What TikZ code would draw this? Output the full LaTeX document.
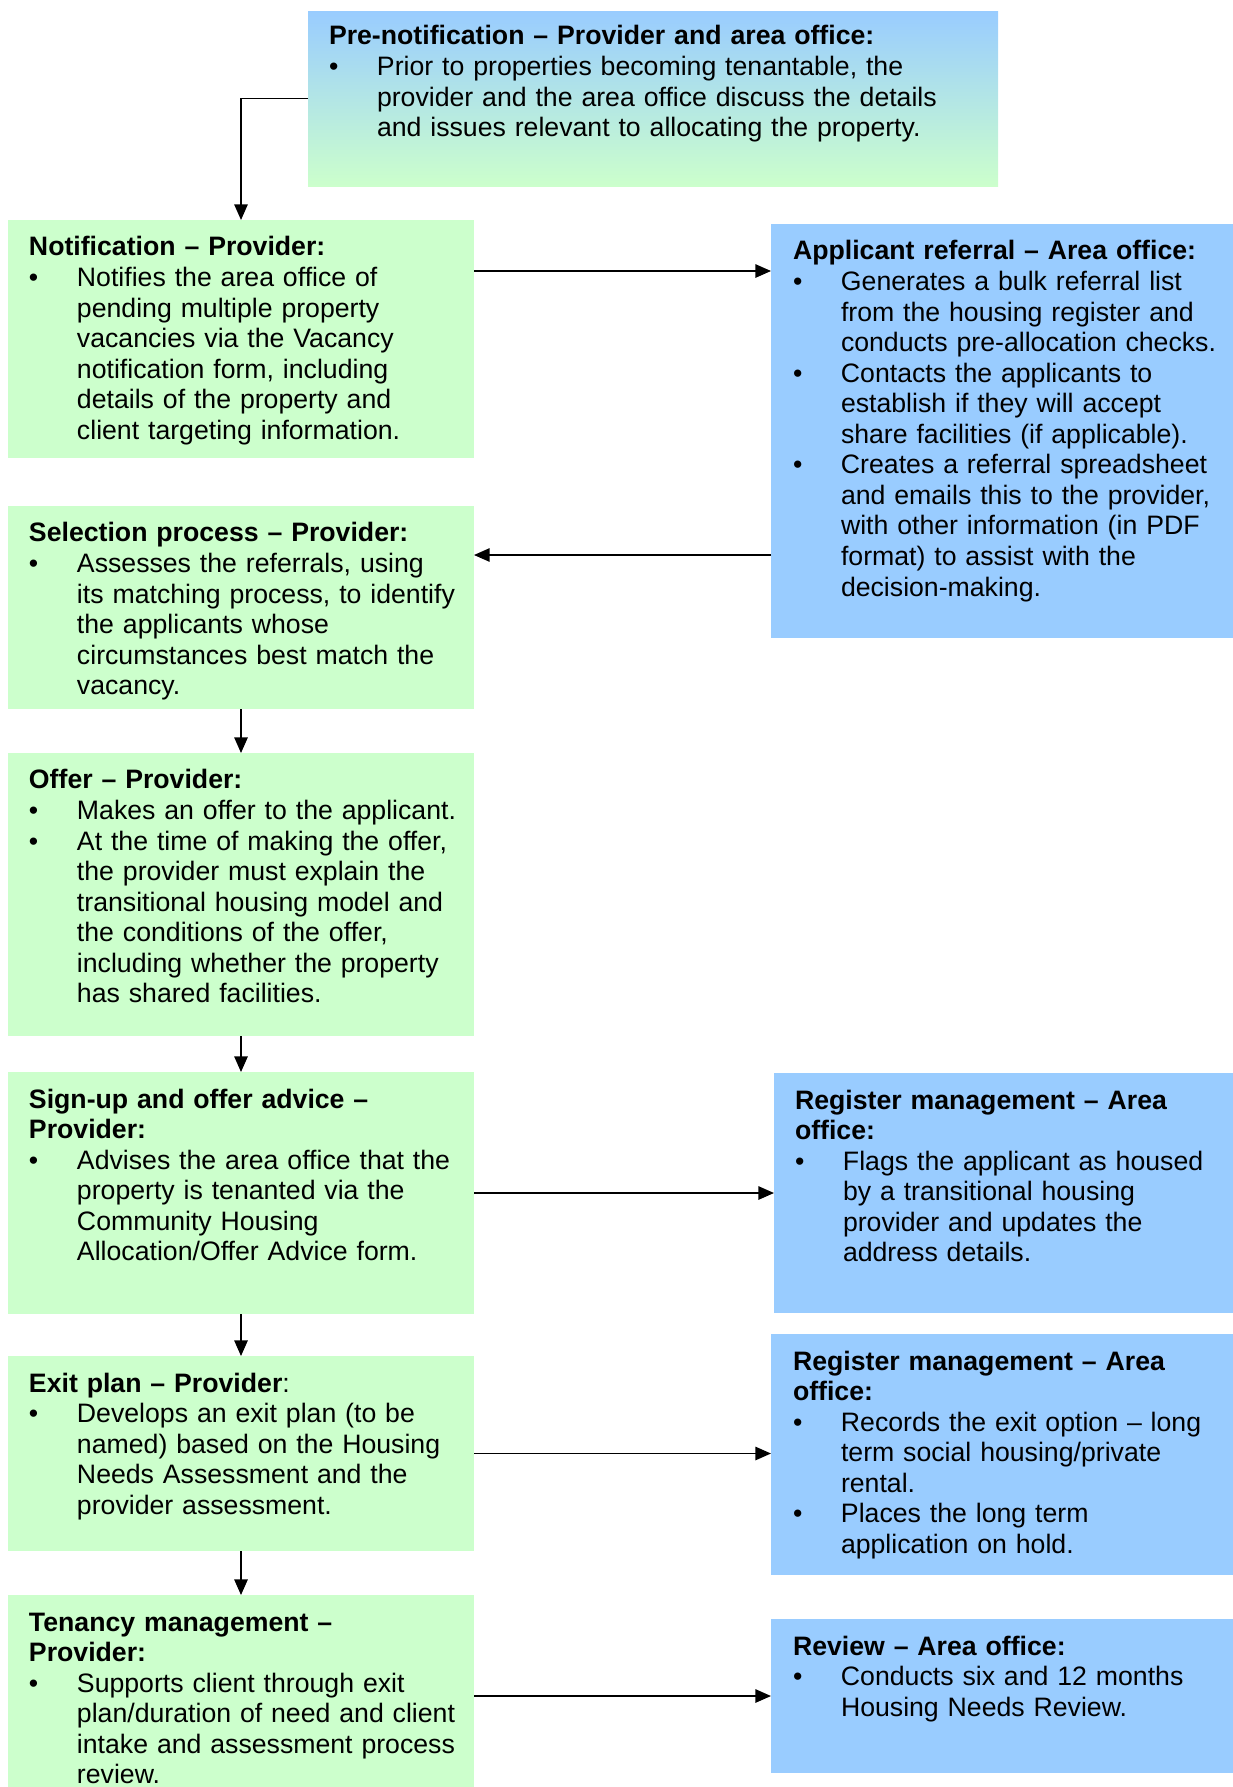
\documentclass[tikz,border=0pt]{standalone}
\usepackage{fontspec}
\setmainfont{Liberation Sans}
\usetikzlibrary{fit,calc,arrows.meta}
\definecolor{gfill}{HTML}{CCFFCC}
\definecolor{bfill}{HTML}{99CCFF}
\setlength{\parskip}{0pt}
\newcommand\bul{\par\leftskip=21.6pt\noindent\llap{\makebox[21.6pt][l]{•}}\ignorespaces}
\newcommand\ttl[1]{\strut\textbf{#1}}
\begin{document}
\begin{tikzpicture}[x=0.45pt,y=-0.45pt,
  box/.style={inner sep=0pt, outer sep=0pt, draw=none},
  gbox/.style={box, fill=gfill},
  bbox/.style={box, fill=bfill},
  txt/.style={anchor=north west, inner sep=0pt, outer sep=0pt, text width=300pt,
    font=\fontsize{12}{13.75}\selectfont},
  arr/.style={draw, line width=0.7pt, -{Triangle[length=7pt,width=6pt]}}]
\useasboundingbox (0,0) rectangle (1233,1787);

% boxes
\node[box, fit={(308,11) (998,186)}, top color=bfill, bottom color=gfill] (pre) {};
\node[gbox, fit={(8,220) (474,458)}] (notif) {};
\node[bbox, fit={(771,224) (1233,638)}] (app) {};
\node[gbox, fit={(8,506) (474,709)}] (sel) {};
\node[gbox, fit={(8,753) (474,1036)}] (offer) {};
\node[gbox, fit={(8,1072) (474,1314)}] (sign) {};
\node[bbox, fit={(774,1073) (1233,1313)}] (reg1) {};
\node[gbox, fit={(8,1356) (474,1551)}] (exit) {};
\node[bbox, fit={(771,1334) (1233,1575)}] (reg2) {};
\node[gbox, fit={(8,1595) (474,1787)}] (ten) {};
\node[bbox, fit={(771,1619) (1233,1773)}] (rev) {};

% texts
\node[txt] (preT) at ($(pre.north west)+(21,12.6)$) {\raggedright
\ttl{Pre-notification – Provider and area office:}
\bul Prior to properties becoming tenantable, the\\
provider and the area office discuss the details\\
and issues relevant to allocating the property.\par};

\node[txt] (notifT) at ($(notif.north west)+(21,14.6)$) {\raggedright
\ttl{Notification – Provider:}
\bul Notifies the area office of\\
pending multiple property\\
vacancies via the Vacancy\\
notification form, including\\
details of the property and\\
client targeting information.\par};

\node[txt] (appT) at ($(app.north west)+(22,14.6)$) {\raggedright
\ttl{Applicant referral – Area office:}
\bul Generates a bulk referral list\\
from the housing register and\\
conducts pre-allocation checks.
\bul Contacts the applicants to\\
establish if they will accept\\
share facilities (if applicable).
\bul Creates a referral spreadsheet\\
and emails this to the provider,\\
with other information (in PDF\\
format) to assist with the\\
decision-making.\par};

\node[txt] (selT) at ($(sel.north west)+(21,14.6)$) {\raggedright
\ttl{Selection process – Provider:}
\bul Assesses the referrals, using\\
its matching process, to identify\\
the applicants whose\\
circumstances best match the\\
vacancy.\par};

\node[txt] (offerT) at ($(offer.north west)+(21,14.6)$) {\raggedright
\ttl{Offer – Provider:}
\bul Makes an offer to the applicant.
\bul At the time of making the offer,\\
the provider must explain the\\
transitional housing model and\\
the conditions of the offer,\\
including whether the property\\
has shared facilities.\par};

\node[txt] (signT) at ($(sign.north west)+(21,14.6)$) {\raggedright
\ttl{Sign-up and offer advice –}\\
\textbf{Provider:}
\bul Advises the area office that the\\
property is tenanted via the\\
Community Housing\\
Allocation/Offer Advice form.\par};

\node[txt] (reg1T) at ($(reg1.north west)+(21,14.6)$) {\raggedright
\ttl{Register management – Area}\\
\textbf{office:}
\bul Flags the applicant as housed\\
by a transitional housing\\
provider and updates the\\
address details.\par};

\node[txt] (exitT) at ($(exit.north west)+(21,14.6)$) {\raggedright
\ttl{Exit plan – Provider}:
\bul Develops an exit plan (to be\\
named) based on the Housing\\
Needs Assessment and the\\
provider assessment.\par};

\node[txt] (reg2T) at ($(reg2.north west)+(22,14.6)$) {\raggedright
\ttl{Register management – Area}\\
\textbf{office:}
\bul Records the exit option – long\\
term social housing/private\\
rental.
\bul Places the long term\\
application on hold.\par};

\node[txt] (tenT) at ($(ten.north west)+(21,14.6)$) {\raggedright
\ttl{Tenancy management –}\\
\textbf{Provider:}
\bul Supports client through exit\\
plan/duration of need and client\\
intake and assessment process\\
review.\par};

\node[txt] (revT) at ($(rev.north west)+(22,14.6)$) {\raggedright
\ttl{Review – Area office:}
\bul Conducts six and 12 months\\
Housing Needs Review.\par};

% connectors
\coordinate (ya) at (0,271);
\coordinate (yb) at (0,555);
\draw[arr] (pre.west) -| (notif.north);
\draw[arr] (notif.east |- ya) -- (app.west |- ya);
\draw[arr] (app.west |- yb) -- (sel.east |- yb);
\draw[arr] (sel.south) -- (offer.north);
\draw[arr] (offer.south) -- (sign.north);
\draw[arr] (sign.east) -- (reg1.west);
\draw[arr] (sign.south) -- (exit.north);
\draw[arr] (exit.east) -- (reg2.west |- exit.east);
\draw[arr] (exit.south) -- (ten.north);
\draw[arr] (ten.east |- rev.west) -- (rev.west);
\end{tikzpicture}
\end{document}
